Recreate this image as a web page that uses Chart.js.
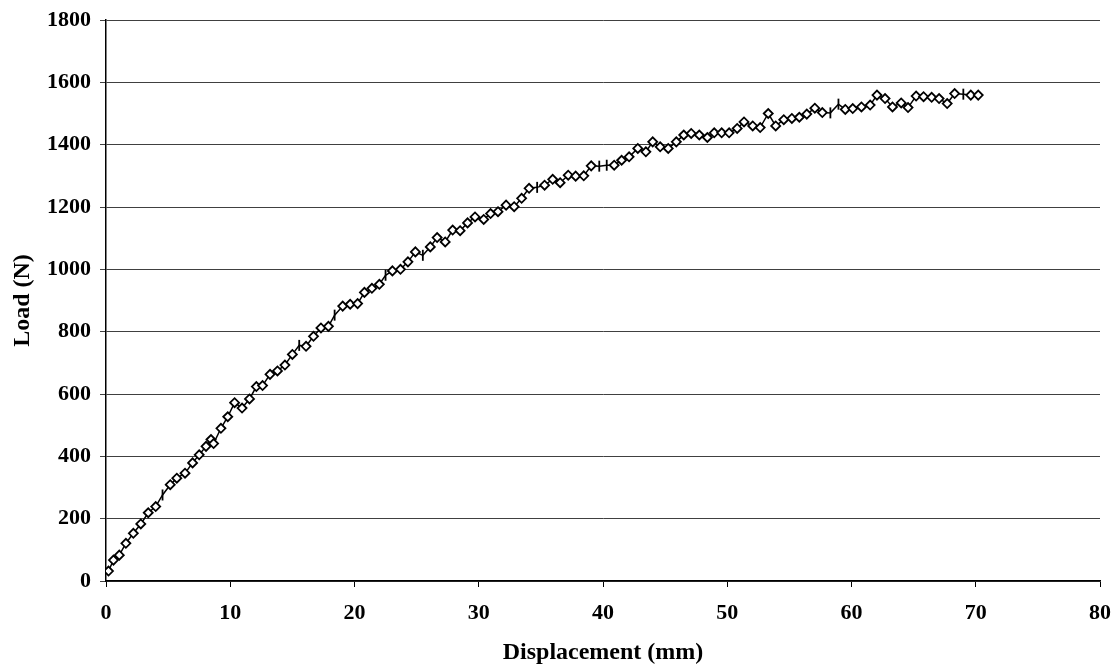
<!DOCTYPE html>
<html>
<head>
<meta charset="utf-8">
<script src="https://cdn.jsdelivr.net/npm/chart.js@4/dist/chart.umd.min.js"></script>
<style>
  html, body { margin: 0; padding: 0; background: #ffffff; }
  canvas { display: block; }
</style>
</head>
<body>
<canvas id="chart" width="1120" height="670"></canvas>
<script>
// Load–displacement record of the test
const displacement = [
  0.2, 0.6, 1.07, 1.6, 2.2, 2.8, 3.4, 4.0, 4.55, 5.17,
  5.7, 6.36, 6.97, 7.5, 8.05, 8.45, 8.66, 9.25, 9.8, 10.35,
  10.95, 11.55, 12.1, 12.6, 13.2, 13.8, 14.4, 15.0, 15.55, 16.1,
  16.7, 17.3, 17.9, 18.4, 19.05, 19.65, 20.25, 20.8, 21.4, 22.0,
  22.5, 23.05, 23.7, 24.3, 24.9, 25.5, 26.1, 26.65, 27.3, 27.9,
  28.5, 29.1, 29.7, 30.4, 30.95, 31.55, 32.2, 32.85, 33.45, 34.05,
  34.7, 35.3, 35.95, 36.55, 37.2, 37.8, 38.45, 39.05, 39.7, 40.3,
  40.9, 41.5, 42.1, 42.8, 43.45, 44.0, 44.6, 45.25, 45.9, 46.5,
  47.1, 47.75, 48.4, 48.95, 49.55, 50.15, 50.8, 51.35, 52.05, 52.65,
  53.3, 53.9, 54.55, 55.2, 55.8, 56.4, 57.05, 57.65, 58.3, 58.95,
  59.5, 60.1, 60.8, 61.5, 62.05, 62.7, 63.3, 64.0, 64.55, 65.2,
  65.8, 66.45, 67.05, 67.7, 68.3, 69.0, 69.6, 70.2
];
const load = [
  32, 67, 83, 121, 153, 183, 219, 239, 276, 309,
  330, 346, 379, 405, 432, 454, 441, 490, 527, 572,
  555, 584, 624, 627, 663, 674, 693, 727, 756, 753,
  785, 812, 817, 853, 882, 888, 890, 926, 939, 952,
  981, 995, 1000, 1024, 1056, 1045, 1072, 1102, 1088, 1126,
  1124, 1149, 1168, 1160, 1179, 1185, 1206, 1201, 1228, 1260,
  1263, 1270, 1289, 1278, 1302, 1299, 1300, 1332, 1331, 1334,
  1334, 1350, 1361, 1388, 1377, 1409, 1393, 1388, 1409, 1431,
  1436, 1431, 1423, 1438, 1438, 1438, 1452, 1473, 1460, 1455,
  1500, 1460, 1480, 1484, 1488, 1498, 1517, 1503, 1502, 1530,
  1513, 1516, 1521, 1527, 1559, 1548, 1521, 1534, 1519, 1556,
  1554, 1552, 1548, 1532, 1564, 1562, 1559, 1559
];
const xTicks = [0, 10, 20, 30, 40, 50, 60, 70, 80];
const yTicks = [0, 200, 400, 600, 800, 1000, 1200, 1400, 1600, 1800];

// Readings plotted with a short vertical tick instead of the diamond marker
const tickMarked = new Set([8, 28, 33, 40, 45, 60, 68, 69, 98, 99, 115]);

const points = displacement.map((d, i) => ({ x: d, y: load[i] }));
const serif = '"Liberation Serif", "Times New Roman", serif';
const tickFont = { family: serif, size: 22, weight: 'bold' };
const titleFont = { family: serif, size: 24, weight: 'bold' };

new Chart(document.getElementById('chart'), {
  type: 'scatter',
  data: {
    datasets: [{
      data: points,
      showLine: true,
      borderColor: '#000000',
      borderWidth: 1.5,
      pointStyle: ctx => tickMarked.has(ctx.dataIndex) ? 'line' : 'rectRot',
      rotation: ctx => tickMarked.has(ctx.dataIndex) ? 90 : 0,
      pointRadius: ctx => tickMarked.has(ctx.dataIndex) ? 5.5 : 4.5,
      pointBorderWidth: 1.8,
      pointBorderColor: '#000000',
      pointBackgroundColor: '#ffffff'
    }]
  },
  options: {
    responsive: false,
    animation: false,
    layout: { padding: { left: 0, right: 20, top: 20, bottom: 0 } },
    plugins: { legend: { display: false }, tooltip: { enabled: false } },
    scales: {
      x: {
        type: 'linear',
        min: xTicks[0],
        max: xTicks[xTicks.length - 1],
        afterBuildTicks: s => { s.ticks = xTicks.map(v => ({ value: v })); },
        afterFit: s => { s.height = 89; s.paddingLeft = 0; s.paddingRight = 0; },
        border: { display: true, color: '#000000', width: 1.5 },
        grid: { drawOnChartArea: false, drawTicks: true, tickLength: 6, color: '#000000' },
        ticks: { color: '#000000', font: tickFont, padding: 13, maxRotation: 0,
                 callback: v => String(v) },
        title: {
          display: true, text: 'Displacement (mm)', color: '#000000',
          font: titleFont, padding: { top: 0, bottom: 3 }
        }
      },
      y: {
        type: 'linear',
        min: yTicks[0],
        max: yTicks[yTicks.length - 1],
        afterBuildTicks: s => { s.ticks = yTicks.map(v => ({ value: v })); },
        afterFit: s => { s.width = 106; s.paddingTop = 0; s.paddingBottom = 0; },
        border: { display: true, color: '#000000', width: 1.5 },
        grid: { drawTicks: true, tickLength: 6, color: '#404040', lineWidth: 1 },
        ticks: { color: '#000000', font: tickFont, padding: 9,
                 callback: v => String(v) },
        title: {
          display: true, text: 'Load (N)', color: '#000000',
          font: titleFont, padding: { top: 8, bottom: 0 }
        }
      }
    }
  }
});
</script>
</body>
</html>
